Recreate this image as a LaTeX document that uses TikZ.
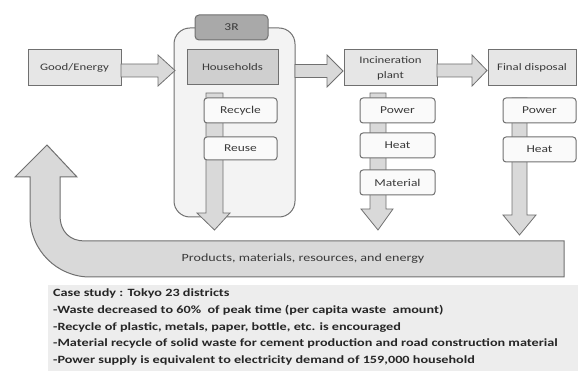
\documentclass[tikz,border=0pt]{standalone}
\usepackage{fontspec}
\setmainfont{Carlito}[FakeStretch=1.28]
\usetikzlibrary{calc}
\definecolor{edgec}{HTML}{707070}
\definecolor{boxf}{HTML}{E6E6E6}
\definecolor{hhf}{HTML}{CFCFCF}
\definecolor{tabf}{HTML}{A9A9A9}
\definecolor{contf}{HTML}{F3F3F3}
\definecolor{arrf}{HTML}{D9D9D9}
\definecolor{smallf}{HTML}{FAFAFA}
\definecolor{casef}{HTML}{EDEDED}
\definecolor{txt}{HTML}{3A3A3A}
\tikzset{
  mainbox/.style={draw=edgec, line width=1pt, fill=boxf, inner sep=1pt, text=txt,
    font=\fontsize{10}{12}\selectfont, align=center},
  smallbox/.style={draw=edgec, line width=1pt, fill=smallf, rounded corners=3pt, text=txt,
    minimum width=73pt, font=\fontsize{10.5}{12}\selectfont},
  blk/.style={draw=edgec, line width=0.8pt, fill=arrf},
}
\begin{document}
\begin{tikzpicture}[x=1pt,y=-1pt]
\useasboundingbox (0,0) rectangle (578,371);
% container
\draw[draw=edgec, line width=1pt, fill=contf, rounded corners=16pt] (174,28) rectangle (295,217);
\node[draw=edgec, line width=1pt, fill=tabf, rounded corners=4pt, minimum width=73pt, minimum height=25pt,
  text=txt, font=\fontsize{10.5}{12}\selectfont] (tab) at (231.5,27.5) {3R};
% main boxes
\node[mainbox, minimum width=93pt, minimum height=36pt] (ge) at (74.5,68) {Good/Energy};
\node[mainbox, fill=hhf, minimum width=91pt, minimum height=35pt] (hh) at (232.5,67.5) {Households};
\node[mainbox, minimum width=93pt, minimum height=36pt, font=\fontsize{10}{15}\selectfont] (inc) at (390.5,68) {Incineration\\plant};
\node[mainbox, minimum width=88pt, minimum height=36pt] (fd) at (532,68) {Final disposal};
% horizontal block arrows
\draw[blk] (121,64) -- (158,64) -- (158,55) -- (175,70.5) -- (158,86) -- (158,77) -- (121,77) -- cycle;
\draw[blk] (295,64.5) -- (327,64.5) -- (327,55) -- (343,71) -- (327,87) -- (327,77.5) -- (295,77.5) -- cycle;
\draw[blk] (437,64) -- (472,64) -- (472,55) -- (487,70.5) -- (472,86) -- (472,77) -- (437,77) -- cycle;
% down block arrows
\draw[blk] (206,93) -- (223,93) -- (223,213) -- (230,213) -- (214.5,230) -- (197,213) -- (206,213) -- cycle;
\draw[blk] (370,93) -- (386,93) -- (386,209) -- (393,209) -- (378,230) -- (361,209) -- (370,209) -- cycle;
\draw[blk] (512,98) -- (527,98) -- (527,215) -- (536,215) -- (519.5,235) -- (503,215) -- (512,215) -- cycle;
% small boxes
\node[smallbox, minimum height=25pt] (rec) at (240.5,110.5) {Recycle};
\node[smallbox, minimum height=23pt] (reu) at (240.5,148.5) {Reuse};
\node[smallbox, minimum width=75pt, minimum height=25pt] (p1) at (397.5,110.5) {Power};
\node[smallbox, minimum width=75pt, minimum height=25pt] (h1) at (397.5,145.5) {Heat};
\node[smallbox, minimum width=75pt, minimum height=25pt] (m1) at (397.5,182.5) {Material};
\node[smallbox, minimum height=25pt] (p2) at (539.5,110.5) {Power};
\node[smallbox, minimum height=25pt] (h2) at (539.5,149.5) {Heat};
% big return arrow
\draw[blk, line width=1pt] (47,145) -- (77,177) -- (60,177) -- (60,215)
  .. controls (60,232) and (70,241) .. (85,241) -- (564,241) -- (564,277) -- (90,277)
  .. controls (57,277) and (30,250) .. (30,217) -- (30,177) -- (15,177) -- cycle;
\node[text=txt, font=\fontsize{11}{12}\selectfont] (band) at (303,259) {Products, materials, resources, and energy};
% case study
\fill[casef] (48,285) rectangle (578,371);
\node[anchor=north west, align=left, text=black!85, inner sep=0pt,
  font=\fontsize{11.1}{16.8}\bfseries\selectfont] (cs) at (53,288.5)
  {Case study : Tokyo 23 districts\\
   -Waste decreased to 60\%\ \ of peak time (per capita waste\ \ amount)\\
   -Recycle of plastic, metals, paper, bottle, etc. is encouraged\\
   -Material recycle of solid waste for cement production and road construction material\\
   -Power supply is equivalent to electricity demand of 159,000 household};
\end{tikzpicture}
\end{document}
